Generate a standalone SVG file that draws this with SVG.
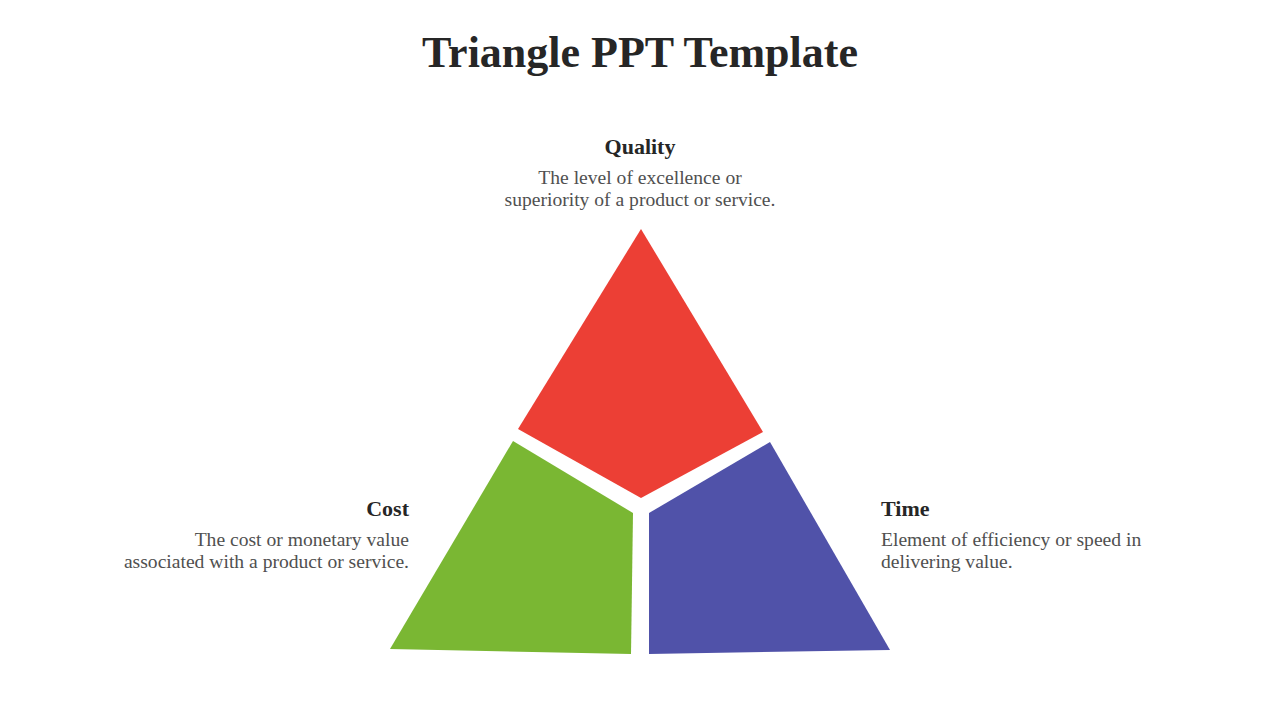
<svg xmlns="http://www.w3.org/2000/svg" width="1280" height="720" viewBox="0 0 1280 720">
<style>
.title{font-family:"Liberation Serif","Times New Roman",serif;font-weight:bold;font-size:44px;fill:#262626}
.head{font-family:"Liberation Serif","Times New Roman",serif;font-weight:bold;font-size:22px;fill:#262626}
.body{font-family:"Liberation Serif","Times New Roman",serif;font-size:19.6px;fill:#505050}
</style>
<rect width="1280" height="720" fill="#ffffff"/>
<text class="title" x="640" y="67" text-anchor="middle">Triangle PPT Template</text>
<g id="quality">
<polygon points="641,229 763,432 641,498 518,429" fill="#EC3F35"/>
<text class="head" x="640" y="154" text-anchor="middle">Quality</text>
<text class="body" x="640" y="184" text-anchor="middle">The level of excellence or</text>
<text class="body" x="640" y="206" text-anchor="middle">superiority of a product or service.</text>
</g>
<g id="cost">
<polygon points="513,441 633,513 631,654 390,649" fill="#7AB733"/>
<text class="head" x="409" y="516" text-anchor="end">Cost</text>
<text class="body" x="409" y="546" text-anchor="end">The cost or monetary value</text>
<text class="body" x="409" y="568" text-anchor="end">associated with a product or service.</text>
</g>
<g id="time">
<polygon points="770,442 890,650 649,654 649,513" fill="#5052A9"/>
<text class="head" x="881" y="516">Time</text>
<text class="body" x="881" y="546">Element of efficiency or speed in</text>
<text class="body" x="881" y="568">delivering value.</text>
</g>
<g id="connectors"/>
</svg>
